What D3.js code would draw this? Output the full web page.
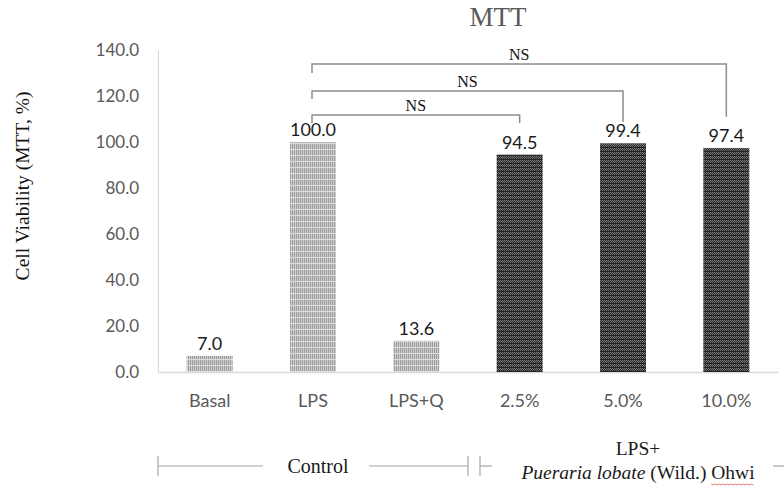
<!DOCTYPE html>
<html>
<head>
<meta charset="utf-8">
<script src="https://cdn.jsdelivr.net/npm/d3@7"></script>
<style>
  html, body { margin: 0; padding: 0; background: #fff; }
  svg { display: block; }
</style>
</head>
<body>
<svg id="chart" width="784" height="489"></svg>
<script>
// ---- data ----
const categories = ["Basal", "LPS", "LPS+Q", "2.5%", "5.0%", "10.0%"];
const values = [7.0, 100.0, 13.6, 94.5, 99.4, 97.4];
const barStyle = ["light", "light", "light", "dark", "dark", "dark"];
const yTicks = [0, 20, 40, 60, 80, 100, 120, 140];
// significance brackets: from, to, bracket level, left-end level, right-end level (in data units)
const brackets = [
  { from: "LPS", to: "2.5%",  level: 111.7, leftEnd: 108.3, rightEnd: 108.3, label: "NS" },
  { from: "LPS", to: "5.0%",  level: 122.2, leftEnd: 118.7, rightEnd: 108.7, label: "NS" },
  { from: "LPS", to: "10.0%", level: 133.9, leftEnd: 130.0, rightEnd: 111.0, label: "NS" }
];

const svg = d3.select("#chart");
const pLeft = 158, pRight = 778, pTop = 50, pBottom = 372;

const x = d3.scaleBand().domain(categories).range([pLeft, pRight]).paddingInner(0.555).paddingOuter(0.2775);
const y = d3.scaleLinear().domain([0, 140]).range([pBottom, pTop]);

// patterns
const defs = svg.append("defs");
const pl = defs.append("pattern").attr("id", "pLight").attr("patternUnits", "userSpaceOnUse")
  .attr("width", 2).attr("height", 6);
pl.append("rect").attr("width", 2).attr("height", 6).attr("fill", "#cfcfcf");
pl.append("rect").attr("x", 0).attr("width", 1).attr("height", 6).attr("fill", "#9c9c9c");
pl.append("rect").attr("y", 5).attr("width", 2).attr("height", 1).attr("fill", "#dcdcdc");

const pd = defs.append("pattern").attr("id", "pDark").attr("patternUnits", "userSpaceOnUse")
  .attr("width", 2).attr("height", 4);
pd.append("rect").attr("width", 2).attr("height", 4).attr("fill", "#262626");
pd.append("rect").attr("x", 0).attr("y", 0).attr("width", 1).attr("height", 1).attr("fill", "#808080");
pd.append("rect").attr("x", 1).attr("y", 1).attr("width", 1).attr("height", 1).attr("fill", "#808080");
pd.append("rect").attr("x", 0).attr("y", 2).attr("width", 1).attr("height", 1).attr("fill", "#6a6a6a");

// title
svg.append("text").attr("x", 498).attr("y", 26).attr("text-anchor", "middle")
  .attr("font-family", "Liberation Serif, serif").attr("font-size", 27).attr("fill", "#595959")
  .text("MTT");

// y axis title
svg.append("text").attr("transform", "translate(29,186) rotate(-90)").attr("text-anchor", "middle")
  .attr("font-family", "Liberation Serif, serif").attr("font-size", 19.5).attr("fill", "#111")
  .text("Cell Viability (MTT, %)");

// y axis
const yAxis = d3.axisLeft(y).tickValues(yTicks).tickFormat(d3.format(".1f")).tickSize(0).tickPadding(19);
const gy = svg.append("g").attr("transform", `translate(${pLeft},0)`).call(yAxis);
gy.select(".domain").attr("stroke", "#d9d9d9").attr("stroke-width", 1.2);
gy.selectAll("text").attr("font-family", "Lato, sans-serif").attr("font-size", 17).attr("fill", "#595959");

// x axis
const xAxis = d3.axisBottom(x).tickSize(0).tickPadding(22);
const gx = svg.append("g").attr("transform", `translate(0,${pBottom})`).call(xAxis);
gx.select(".domain").attr("stroke", "#d9d9d9").attr("stroke-width", 1.5);
gx.selectAll("text").attr("font-family", "Lato, sans-serif").attr("font-size", 18).attr("fill", "#595959");

// bars
svg.append("g").selectAll("rect").data(categories).join("rect")
  .attr("x", d => x(d)).attr("width", x.bandwidth())
  .attr("y", (d, i) => y(values[i])).attr("height", (d, i) => y(0) - y(values[i]))
  .attr("fill", (d, i) => barStyle[i] === "light" ? "url(#pLight)" : "url(#pDark)");

// bar labels
svg.append("g").selectAll("text").data(categories).join("text")
  .attr("x", d => x(d) + x.bandwidth() / 2).attr("y", (d, i) => y(values[i]) - 6)
  .attr("text-anchor", "middle").attr("font-family", "Lato, sans-serif").attr("font-size", 18)
  .attr("fill", "#1a1a1a")
  .text((d, i) => d3.format(".1f")(values[i]));

// brackets
const cx = d => x(d) + x.bandwidth() / 2;
const bg = svg.append("g");
brackets.forEach(b => {
  const x1 = cx(b.from) - 1, x2 = cx(b.to);
  bg.append("path")
    .attr("d", `M${x1},${y(b.leftEnd)}V${y(b.level)}H${x2}V${y(b.rightEnd)}`)
    .attr("fill", "none").attr("stroke", "#8c8c8c").attr("stroke-width", 1.5);
  bg.append("text").attr("x", (x1 + x2) / 2).attr("y", y(b.level) - 4)
    .attr("text-anchor", "middle").attr("font-family", "Liberation Serif, serif")
    .attr("font-size", 16).attr("fill", "#111").text(b.label);
});

// group labels under the axis
const gl = svg.append("g").attr("stroke", "#a6a6a6").attr("stroke-width", 1.2);
const ly = 466;
gl.append("line").attr("x1", pLeft).attr("x2", pLeft).attr("y1", ly - 10).attr("y2", ly + 10);
gl.append("line").attr("x1", pLeft).attr("x2", 263).attr("y1", ly).attr("y2", ly);
gl.append("line").attr("x1", 369).attr("x2", 468).attr("y1", ly).attr("y2", ly);
gl.append("line").attr("x1", 468).attr("x2", 468).attr("y1", ly - 10).attr("y2", ly + 10);
gl.append("line").attr("x1", 480).attr("x2", 480).attr("y1", ly - 10).attr("y2", ly + 10);
gl.append("line").attr("x1", 480).attr("x2", 492).attr("y1", ly).attr("y2", ly);
gl.append("line").attr("x1", 773).attr("x2", 784).attr("y1", ly).attr("y2", ly);

svg.append("text").attr("x", 318).attr("y", 473).attr("text-anchor", "middle")
  .attr("font-family", "Liberation Serif, serif").attr("font-size", 20).attr("fill", "#1a1a1a")
  .text("Control");
svg.append("text").attr("x", 638).attr("y", 455).attr("text-anchor", "middle")
  .attr("font-family", "Liberation Serif, serif").attr("font-size", 19.5).attr("fill", "#1a1a1a")
  .text("LPS+");
const t2 = svg.append("text").attr("x", 638).attr("y", 479).attr("text-anchor", "middle")
  .attr("font-family", "Liberation Serif, serif").attr("font-size", 19.5).attr("fill", "#1a1a1a");
t2.append("tspan").attr("font-style", "italic").text("Pueraria lobate");
t2.append("tspan").text(" (Wild.) ");
t2.append("tspan").text("Ohwi");

// spell-check squiggle under "Ohwi"
const node = t2.node();
const full = node.textContent;
const start = full.indexOf("Ohwi");
const ext = node.getExtentOfChar(start);
const wOhwi = node.getSubStringLength(start, 4);
svg.append("path")
  .attr("d", d3.range(0, Math.floor(wOhwi / 2) + 1).map((k) => `${k === 0 ? "M" : "L"}${ext.x + k * 2},${484 + (k % 2 ? 1 : 0)}`).join(""))
  .attr("fill", "none").attr("stroke", "#e05050").attr("stroke-width", 0.8);
</script>
</body>
</html>
